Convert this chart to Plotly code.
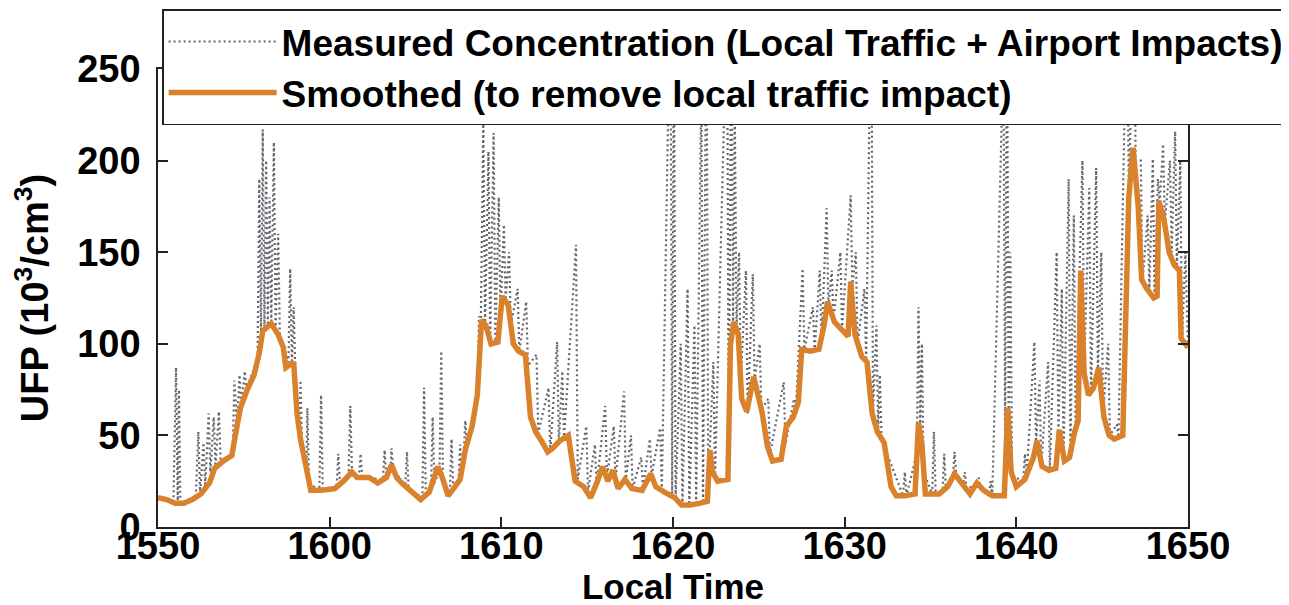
import plotly.graph_objects as go

# x values: minutes after 15:50 local time
tick_minutes = [0, 10, 20, 30, 40, 50, 60]
tick_labels = ["1550", "1600", "1610", "1620", "1630", "1640", "1650"]
y_ticks = [0, 50, 100, 150, 200, 250]

# Smoothed concentration (10^3 / cm^3), (minute, value)
smooth_1550 = [(0, 16), (0.5, 15), (1.0, 13), (1.5, 13), (2.0, 15), (2.5, 18), (3.0, 24), (3.3, 32),
               (3.8, 36), (4.3, 39), (4.6, 55), (4.8, 65), (5.2, 75), (5.6, 83), (5.9, 95), (6.1, 107),
               (6.6, 111), (7.0, 105), (7.3, 98), (7.45, 87), (7.9, 90), (8.1, 62), (8.3, 48), (8.6, 33),
               (8.9, 20), (9.5, 20)]
smooth_1600 = [(10.3, 21), (10.8, 25), (11.3, 30), (11.6, 27), (12.3, 27), (12.8, 24), (13.3, 27),
               (13.6, 34), (13.9, 27), (14.2, 24), (14.8, 19), (15.3, 15), (15.8, 19), (16.3, 33),
               (16.6, 26), (16.9, 17), (17.3, 22), (17.6, 26), (17.9, 42), (18.3, 55), (18.6, 72),
               (18.85, 113), (19.1, 110), (19.4, 100), (19.8, 101)]
smooth_1610 = [(20.05, 126), (20.4, 121), (20.7, 100), (21.0, 96), (21.4, 94), (21.7, 60), (22.0, 52),
               (22.4, 46), (22.7, 41), (23.0, 43), (23.4, 47), (23.9, 50), (24.1, 35), (24.3, 25),
               (24.8, 22), (25.2, 16), (25.6, 25), (25.9, 33), (26.2, 25), (26.5, 31), (26.8, 21),
               (27.2, 26), (27.6, 21), (28.2, 20), (28.7, 29), (29.0, 22), (29.5, 19)]
smooth_1620 = [(30.1, 16), (30.5, 12), (31.0, 12), (31.6, 13), (32.0, 14), (32.15, 42), (32.3, 30),
               (32.6, 25), (33.2, 26), (33.35, 100), (33.55, 112), (33.8, 105), (34.0, 70), (34.3, 63),
               (34.7, 82), (34.9, 74), (35.2, 62), (35.5, 44), (35.8, 36), (36.3, 37), (36.6, 55),
               (37.0, 60), (37.3, 68), (37.5, 97), (38.0, 96), (38.5, 97), (38.8, 110), (39.0, 123),
               (39.4, 112), (39.8, 108)]
smooth_1630 = [(40.2, 104), (40.35, 134), (40.6, 105), (41.0, 93), (41.3, 90), (41.6, 62), (41.9, 52),
               (42.3, 46), (42.7, 22), (43.0, 17), (43.5, 17), (44.1, 18), (44.3, 57), (44.5, 45),
               (44.7, 18), (45.5, 18), (46.0, 22), (46.4, 29), (46.9, 23), (47.3, 18), (47.7, 24),
               (48.1, 20), (48.6, 17), (49.3, 17), (49.5, 65), (49.7, 30)]
smooth_1640 = [(50.0, 22), (50.5, 26), (51.0, 38), (51.2, 47), (51.5, 33), (51.9, 31), (52.3, 32),
               (52.5, 53), (52.8, 36), (53.1, 38), (53.4, 52), (53.6, 58), (53.75, 140), (53.95, 84),
               (54.2, 72), (54.5, 76), (54.8, 87), (55.1, 60), (55.4, 50), (55.7, 48), (56.2, 50),
               (56.4, 120), (56.55, 180), (56.8, 207), (57.1, 175), (57.3, 135), (57.6, 130),
               (58.0, 125), (58.2, 126), (58.3, 178), (58.6, 168), (58.9, 150), (59.2, 143),
               (59.5, 140), (59.6, 103), (60.0, 98)]

# Measured concentration (10^3 / cm^3), (minute, value)
meas_1550 = [(0, 16), (0.9, 14), (1.05, 87), (1.15, 13), (1.22, 75), (1.3, 13), (2.2, 16), (2.35, 52),
             (2.45, 18), (2.65, 46), (2.75, 22), (2.95, 62), (3.05, 30), (3.25, 60), (3.35, 33),
             (3.55, 63), (3.65, 36), (4.35, 40), (4.45, 80), (4.6, 55), (4.75, 83), (4.85, 65),
             (5.05, 85), (5.15, 75), (5.8, 92), (5.9, 190), (6.0, 105), (6.1, 217), (6.2, 108),
             (6.3, 200), (6.4, 110), (6.5, 180), (6.6, 111), (6.75, 210), (6.85, 108), (7.0, 160),
             (7.1, 104), (7.6, 90), (7.7, 141), (7.8, 88), (7.9, 120), (8.0, 85), (8.25, 50), (8.3, 80),
             (8.4, 42), (8.65, 30), (8.7, 65), (8.8, 24), (9.4, 20), (9.5, 72), (9.6, 20)]
meas_1600 = [(10.4, 21), (10.5, 40), (10.6, 23), (11.1, 28), (11.2, 66), (11.3, 30), (11.7, 27),
             (11.8, 40), (11.9, 27), (13.1, 26), (13.2, 42), (13.3, 27), (13.55, 33), (13.6, 43),
             (13.7, 32), (14.4, 22), (14.5, 41), (14.6, 21), (15.4, 16), (15.5, 76), (15.6, 17),
             (15.9, 20), (16.0, 60), (16.1, 24), (16.4, 31), (16.5, 96), (16.6, 26), (17.0, 18),
             (17.1, 48), (17.2, 20), (17.5, 25), (17.6, 45), (17.7, 28), (17.8, 38), (17.9, 58),
             (18.0, 45), (18.6, 70), (18.7, 115), (18.8, 108), (18.95, 220), (19.05, 110),
             (19.25, 205), (19.35, 102), (19.55, 215), (19.65, 100), (19.85, 180), (19.95, 115)]
meas_1610 = [(20.15, 165), (20.25, 124), (20.45, 150), (20.55, 110), (20.95, 130), (21.05, 96),
             (21.45, 123), (21.55, 88), (22.05, 94), (22.15, 51), (22.75, 76), (22.85, 41),
             (23.25, 101), (23.35, 45), (23.55, 85), (23.65, 48), (24.35, 154), (24.45, 26),
             (24.95, 55), (25.05, 19), (25.45, 45), (25.55, 22), (26.05, 66), (26.15, 27),
             (26.55, 55), (26.65, 26), (27.15, 74), (27.25, 25), (27.55, 50), (27.65, 21),
             (28.15, 38), (28.25, 21), (28.65, 48), (28.75, 28), (29.25, 54), (29.35, 20),
             (29.85, 300), (29.95, 17)]
meas_1620 = [(30.05, 280), (30.15, 15), (30.45, 100), (30.55, 12), (30.85, 130), (30.95, 12),
             (31.25, 110), (31.35, 13), (31.65, 240), (31.75, 13), (31.95, 300), (32.05, 20),
             (32.35, 90), (32.45, 27), (33.15, 290), (33.25, 30), (33.4, 300), (33.5, 108),
             (33.6, 230), (33.7, 108), (33.85, 150), (33.95, 80), (34.25, 140), (34.35, 62),
             (34.65, 138), (34.75, 80), (35.05, 100), (35.15, 64), (35.55, 70), (35.65, 40),
             (36.45, 79), (36.55, 45), (37.05, 70), (37.15, 62), (37.55, 141), (37.65, 97),
             (38.15, 120), (38.25, 96), (38.55, 140), (38.65, 100), (38.95, 174), (39.05, 120),
             (39.25, 140), (39.35, 113), (39.75, 150), (39.85, 108)]
meas_1630 = [(40.35, 181), (40.45, 130), (40.65, 150), (40.75, 100), (41.15, 130), (41.25, 91),
             (41.55, 300), (41.65, 62), (41.85, 110), (41.95, 52), (42.05, 83), (42.15, 48),
             (43.4, 17), (43.5, 30), (43.6, 17), (44.2, 40), (44.3, 120), (44.4, 55), (44.5, 100),
             (44.6, 30), (45.1, 18), (45.2, 52), (45.3, 18), (45.7, 19), (45.8, 40), (45.9, 20),
             (46.3, 27), (46.4, 41), (46.5, 28), (46.9, 23), (47.0, 30), (47.1, 21), (47.7, 23),
             (47.8, 27), (47.9, 22), (48.4, 17), (48.5, 25), (48.6, 17), (49.25, 260), (49.35, 40),
             (49.45, 300), (49.55, 60), (49.65, 150), (49.75, 28)]
meas_1640 = [(50.4, 25), (50.5, 40), (50.6, 27), (51.05, 101), (51.15, 45), (51.35, 80), (51.45, 33),
             (51.85, 90), (51.95, 31), (52.35, 150), (52.45, 50), (52.65, 130), (52.75, 38),
             (53.05, 190), (53.15, 38), (53.35, 170), (53.45, 52), (53.85, 200), (53.95, 85),
             (54.25, 185), (54.35, 73), (54.65, 196), (54.75, 85), (54.95, 150), (55.05, 62),
             (55.35, 100), (55.45, 50), (55.85, 56), (55.95, 49), (56.45, 300), (56.55, 180),
             (56.85, 300), (56.95, 200), (57.25, 200), (57.35, 133), (57.65, 170), (57.75, 129),
             (57.95, 201), (58.05, 125), (58.25, 190), (58.35, 176), (58.55, 209), (58.65, 166),
             (58.95, 200), (59.05, 150), (59.25, 216), (59.35, 142), (59.55, 200), (59.65, 102),
             (59.85, 150), (60.0, 98)]

smoothed = smooth_1550 + smooth_1600 + smooth_1610 + smooth_1620 + smooth_1630 + smooth_1640
measured = meas_1550 + meas_1600 + meas_1610 + meas_1620 + meas_1630 + meas_1640

FONT = "Liberation Sans, Arial, sans-serif"

fig = go.Figure()
fig.add_trace(go.Scatter(
    x=[p[0] for p in measured], y=[p[1] for p in measured], mode="lines",
    name="Measured Concentration (Local Traffic + Airport Impacts)",
    line=dict(color="#66666e", width=2.2, dash="2px,3px")))
fig.add_trace(go.Scatter(
    x=[p[0] for p in smoothed], y=[p[1] for p in smoothed], mode="lines",
    name="Smoothed (to remove local traffic impact)",
    line=dict(color="#d9822b", width=5.5)))

axis_common = dict(showgrid=False, zeroline=False, showline=True, linecolor="#222222", linewidth=1.5,
                   ticks="inside", ticklen=10, tickwidth=1.5, tickcolor="#222222", mirror="ticks",
                   tickfont=dict(family=FONT, size=38, color="black", weight="bold"))

fig.update_layout(
    width=1289, height=605,
    margin=dict(l=150, r=109, t=61, b=86, pad=0, autoexpand=False),
    paper_bgcolor="white", plot_bgcolor="white",
    xaxis=dict(range=[0, 60], tickvals=tick_minutes, ticktext=tick_labels, ticklabelstandoff=-15,
               title=dict(text="Local Time", standoff=0,
                          font=dict(family=FONT, size=35, color="black", weight="bold")),
               **axis_common),
    yaxis=dict(range=[0, 250], tickvals=y_ticks, ticklabelstandoff=8,
               title=dict(text="UFP (10<sup>3</sup>/cm<sup>3</sup>)", standoff=18,
                          font=dict(family=FONT, size=38, color="black", weight="bold")),
               **axis_common),
    legend=dict(x=0.004, y=1.13, xanchor="left", yanchor="top", bgcolor="white",
                bordercolor="#222222", borderwidth=1.5, itemwidth=108,
                font=dict(family=FONT, size=37, color="black", weight="bold"),
                tracegroupgap=0),
    showlegend=True,
)

fig.write_html("out.html")
